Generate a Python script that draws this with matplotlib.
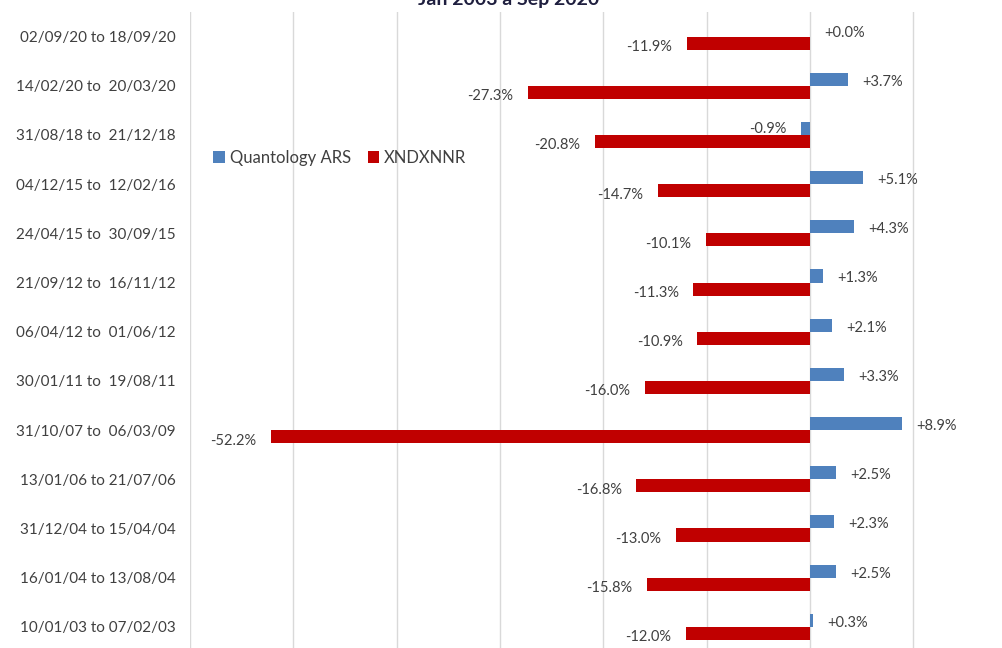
import matplotlib
matplotlib.use("Agg")
import matplotlib.pyplot as plt
import numpy as np

plt.rcParams['font.family'] = ['Lato', 'DejaVu Sans']

# Periods, top to bottom as in the chart
periods = [
    "02/09/20 to 18/09/20",
    "14/02/20 to  20/03/20",
    "31/08/18 to  21/12/18",
    "04/12/15 to  12/02/16",
    "24/04/15 to  30/09/15",
    "21/09/12 to  16/11/12",
    "06/04/12 to  01/06/12",
    "30/01/11 to  19/08/11",
    "31/10/07 to  06/03/09",
    "13/01/06 to 21/07/06",
    "31/12/04 to 15/04/04",
    "16/01/04 to 13/08/04",
    "10/01/03 to 07/02/03",
]
quantology = [0.0, 3.7, -0.9, 5.1, 4.3, 1.3, 2.1, 3.3, 8.9, 2.5, 2.3, 2.5, 0.3]
xndx = [-11.9, -27.3, -20.8, -14.7, -10.1, -11.3, -10.9, -16.0, -52.2, -16.8, -13.0, -15.8, -12.0]

blue = "#4F81BD"
red = "#C00000"
txt = "#404040"

fig = plt.figure(figsize=(10.02, 6.48), dpi=100)
ax = fig.add_axes([190 / 1002, 0, 812 / 1002, 1 - 12 / 648])

y = np.arange(len(periods))
h = 0.265
ax.barh(y - h / 2, quantology, height=h, color=blue, label="Quantology ARS", zorder=3)
ax.barh(y + h / 2, xndx, height=h, color=red, label="XNDXNNR", zorder=3)

# data labels
for yi, v in zip(y, quantology):
    if v >= 0:
        ax.text(v + 1.4, yi - h / 2 + 0.05, f"+{v:.1f}%", ha='left', va='center', fontsize=10.5, color=txt)
    else:
        ax.text(v - 1.4, yi - h / 2 + 0.02, f"{v:.1f}%", ha='right', va='center', fontsize=10.5, color=txt)
for yi, v in zip(y, xndx):
    ax.text(v - 1.4, yi + h / 2 + 0.08, f"{v:.1f}%", ha='right', va='center', fontsize=10.5, color=txt)

ax.set_xlim(-60, 18.6)
ax.set_ylim(12.43, -0.5)
ax.set_xticks(np.arange(-60, 20, 10))
ax.tick_params(axis='x', labelbottom=False, length=0)
ax.set_yticks(y)
ax.set_yticklabels(periods, fontsize=11, color=txt)
ax.tick_params(axis='y', length=0, pad=10)
ax.grid(axis='x', color="#D9D9D9", linewidth=1, zorder=0)
for s in ax.spines.values():
    s.set_visible(False)

ax.legend(loc='center left', bbox_to_anchor=(0.01, 1 - 146 / 636), ncol=2, frameon=False,
          fontsize=12, handlelength=0.7, handleheight=0.7, handletextpad=0.3,
          columnspacing=1.0, labelcolor=txt)

fig.text(509 / 1002, 1 - 5 / 648, "Jan 2003 a Sep 2020", ha='center', va='baseline',
         fontsize=14, fontweight='bold', color="#1F1F3F")

fig.savefig("out.png", dpi=100)
